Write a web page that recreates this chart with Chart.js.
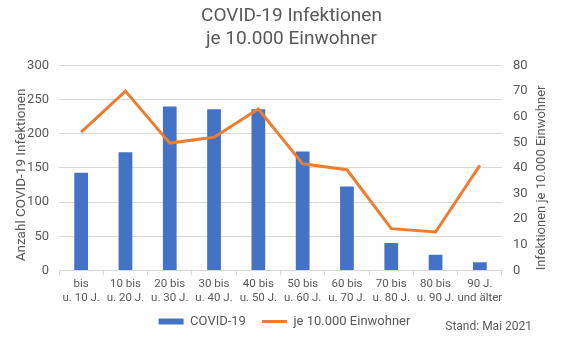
<!DOCTYPE html>
<html><head><meta charset="utf-8">
<script src="https://cdn.jsdelivr.net/npm/chart.js@4"></script>
<style>html,body{margin:0;padding:0;background:#fff}#w{width:583px;height:355px}</style>
</head><body><div id="w"><canvas id="c"></canvas></div>
<script>
const categories = [["bis","u. 10 J."],["10 bis","u. 20 J."],["20 bis","u. 30 J."],["30 bis","u. 40 J."],["40 bis","u. 50 J."],["50 bis","u. 60 J."],["60 bis","u. 70 J."],["70 bis","u. 80 J."],["80 bis","u. 90 J."],["90 J.","und älter"]];
const infektionen = [143, 173, 240, 236, 236, 174, 123, 40, 23, 12];
const jeEinwohner = [54, 70, 49.7, 52, 63, 41.6, 39.3, 16.3, 15, 41];
const titleLines = ["COVID-19 Infektionen", "je 10.000 Einwohner"];
const leftTitle = "Anzahl COVID-19 Infektionen";
const rightTitle = "Infektionen je 10.000 Einwohner";
const standText = "Stand: Mai 2021";

const FONT = "Roboto";
const GRAY = "#595959";
Chart.defaults.font.family = FONT;
Chart.defaults.color = GRAY;

function vText(ctx, text, x, y) {
  ctx.save();
  ctx.translate(x, y);
  ctx.rotate(-Math.PI / 2);
  ctx.fillText(text, 0, 0);
  ctx.restore();
}

const extraPlugin = {
  id: 'extra',
  afterLayout(chart) {
    const lg = chart.legend;
    if (lg) { lg.left -= 7; lg.right -= 7; lg.top -= 8; lg.bottom -= 8; }
  },
  afterDraw(chart) {
    const ctx = chart.ctx;
    const ca = chart.chartArea;
    ctx.save();
    ctx.font = "12px " + FONT;
    ctx.fillStyle = GRAY;
    ctx.textAlign = "right";
    ctx.textBaseline = "middle";
    ctx.fillText(standText, 532, 327);
    ctx.textAlign = "center";
    ctx.font = "13.5px " + FONT;
    vText(ctx, leftTitle, 22, (ca.top + ca.bottom) / 2 + 7);
    ctx.font = "13px " + FONT;
    vText(ctx, rightTitle, 542, (ca.top + ca.bottom) / 2 + 10);
    ctx.restore();
  }
};

new Chart(document.getElementById('c'), {
  data: {
    labels: categories,
    datasets: [
      { type: 'line', label: 'je 10.000 Einwohner', data: jeEinwohner, yAxisID: 'y2',
        borderColor: '#ED7D31', backgroundColor: '#ED7D31', borderWidth: 3, pointRadius: 0,
        pointStyle: 'line', tension: 0, order: 0 },
      { type: 'bar', label: 'COVID-19', data: infektionen, yAxisID: 'y',
        backgroundColor: '#4472C4', borderWidth: 0, pointStyle: 'rect',
        barPercentage: 0.31, categoryPercentage: 1, order: 1 }
    ]
  },
  options: {
    responsive: true, maintainAspectRatio: false, animation: false,
    layout: { padding: { left: 0, right: 0, top: 0, bottom: 9 } },
    plugins: {
      title: { display: true, text: titleLines, color: GRAY, font: { size: 19, weight: 'normal', lineHeight: 1.25 },
               padding: { top: 4, bottom: 14 } },
      legend: { position: 'bottom', reverse: true,
        labels: { usePointStyle: true, pointStyleWidth: 25, boxHeight: 6, boxWidth: 25, color: GRAY,
                  font: { size: 13 }, padding: 16 } },
      tooltip: { enabled: false }
    },
    scales: {
      x: {
        grid: { display: true, drawOnChartArea: false, drawTicks: true, tickLength: 5, color: '#d9d9d9', offset: true },
        border: { display: true, color: '#d9d9d9' },
        ticks: { color: GRAY, font: { size: 11.5 }, maxRotation: 0, autoSkip: false, padding: 2 }
      },
      y: {
        position: 'left', min: 0, max: 300,
        ticks: { stepSize: 50, color: GRAY, font: { size: 13 }, padding: 10 },
        grid: { color: '#d9d9d9', drawTicks: false },
        border: { display: false },
        afterFit(s) { s.width = 59; }
      },
      y2: {
        position: 'right', min: 0, max: 80,
        ticks: { stepSize: 10, color: GRAY, font: { size: 13 }, padding: 11 },
        grid: { display: false, drawTicks: false },
        border: { display: false },
        afterFit(s) { s.width = 81; }
      }
    }
  },
  plugins: [extraPlugin]
});
</script>
</body></html>
